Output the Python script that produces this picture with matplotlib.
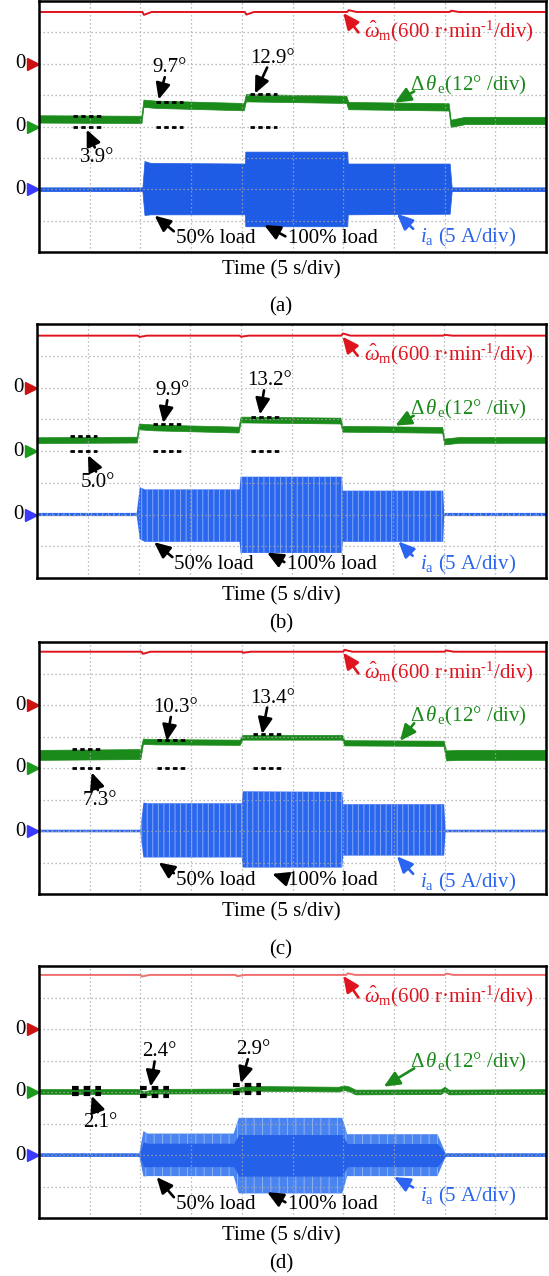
import numpy as np
import matplotlib.pyplot as plt

plt.rcParams['font.family'] = ['Liberation Serif', 'DejaVu Serif']
plt.rcParams['mathtext.fontset'] = 'custom'
plt.rcParams['mathtext.rm'] = 'Liberation Serif'
plt.rcParams['mathtext.it'] = 'Liberation Serif:italic'
plt.rcParams['hatch.linewidth'] = 0.7

# scope scales
T_DIV, W_DIV, TH_DIV, I_DIV = 5, 600, 12, 5
ZERO_W, ZERO_TH, ZERO_I = 6, 4, 2          # zero markers (div from bottom)

panels = ['(a)', '(b)', '(c)', '(d)']

# load steps (s): 50% on, 100% on, back to 50%, off
steps = [[10.2, 20.3, 30.4, 40.5],
         [9.9, 19.9, 29.9, 39.9],
         [10.1, 20.0, 30.0, 40.0],
         [10.0, 19.4, 30.3, 40.0]]
# speed estimate (r/min) and its deviation at each step
speed = [990, 980, 1015, 1030]
speed_dev = [[-55, -50, 35, 25],
             [-25, -20, 40, 15],
             [-40, -20, 35, 25],
             [-30, -25, 30, 25]]

# angle error traces (deg)
th_t = [[0, 10.1, 10.3, 11.5, 20.2, 20.4, 30.3, 30.5, 40.4, 40.6, 42.0, 50],
        [0, 9.8, 10.0, 11.5, 19.8, 20.0, 29.8, 30.0, 39.8, 40.0, 41.5, 50],
        [0, 10.0, 10.25, 11.5, 19.8, 20.05, 29.9, 30.1, 39.9, 40.15, 41.5, 50],
        [0, 9.9, 10.3, 11.5, 19.2, 20.5, 29.5, 30.1, 30.5, 31.2, 39.6, 40.0, 40.4, 50]]
th_v = [[2.9, 2.7, 8.9, 8.5, 7.6, 11.0, 10.4, 8.0, 7.5, 1.2, 2.3, 2.3],
        [4.1, 4.3, 9.3, 8.9, 8.1, 11.9, 11.5, 8.4, 8.0, 3.6, 4.2, 4.2],
        [5.0, 5.3, 10.2, 10.0, 9.8, 11.7, 11.7, 9.6, 9.4, 4.8, 5.0, 5.0],
        [0.2, 0.2, -0.7, 0.3, 0.4, 1.4, 1.1, 1.6, 1.3, 0.0, 0.1, 1.1, 0.0, 0.2]]
th_band = [[1.4] * 12,
           [1.1] * 12,
           [1.9, 1.9, 1.0, 1.0, 1.0, 0.9, 0.9, 1.0, 1.0, 1.9, 1.9, 1.9],
           [0.9] * 14]

# phase current envelope (A)
ia_t = [[0, 10.2, 10.4, 11.0, 20.3, 20.35, 30.4, 30.45, 40.5, 40.7, 50],
        [0, 9.8, 10.1, 10.6, 19.9, 20.0, 29.95, 30.05, 39.9, 40.0, 50],
        [0, 10.0, 10.3, 10.8, 20.0, 20.1, 29.9, 30.0, 39.95, 40.1, 50],
        [0, 9.9, 10.3, 10.7, 19.2, 19.7, 29.9, 30.4, 39.3, 40.1, 50]]
ia_top = [[0.3, 0.3, 4.5, 4.2, 4.1, 6.0, 6.0, 4.1, 4.1, 0.3, 0.3],
          [0.25, 0.25, 4.3, 3.95, 3.95, 5.95, 5.95, 3.75, 3.75, 0.25, 0.25],
          [0.2, 0.2, 4.5, 4.4, 4.4, 6.3, 6.2, 4.25, 4.25, 0.2, 0.2],
          [0.3, 0.3, 3.8, 3.4, 3.4, 5.9, 5.9, 3.3, 3.3, 0.3, 0.3]]
ia_bot = [[0.3, 0.3, 4.1, 4.0, 4.0, 5.9, 5.9, 4.0, 3.9, 0.3, 0.3],
          [0.25, 0.25, 3.9, 4.3, 4.3, 6.05, 6.05, 4.3, 4.3, 0.25, 0.25],
          [0.2, 0.2, 4.2, 4.2, 4.2, 5.8, 5.8, 3.9, 3.9, 0.2, 0.2],
          [0.3, 0.3, 3.4, 3.35, 3.35, 6.1, 6.1, 3.35, 3.35, 0.3, 0.3]]

# marked angle errors
ang_labels = [['3.9°', '9.7°', '12.9°'],
              ['5.0°', '9.9°', '13.2°'],
              ['7.3°', '10.3°', '13.4°'],
              ['2.1°', '2.4°', '2.9°']]
# dashed markers: (t start, t end, upper deg, lower deg)
ang_marks = [[(3.4, 6.1, 4.1, 0), (11.5, 14.2, 9.5, 0), (20.8, 23.5, 12.4, 0)],
             [(3.2, 5.9, 5.6, 0), (11.4, 14.2, 10.1, 0), (21.0, 23.8, 13.0, 0)],
             [(3.3, 6.1, 7.3, 0), (11.6, 14.4, 10.5, 0), (21.1, 23.9, 12.9, 0)],
             [(3.3, 6.1, 1.5, -0.6), (10.0, 12.8, 1.5, -1.4), (19.1, 21.9, 2.7, -0.2)]]

# layout (pixels): box left, top, right, bottom
W, H = 549, 1276
boxes = [(39, 1, 546, 252), (37, 324, 546, 578), (39, 642, 546, 894), (39, 966, 546, 1218)]
cap_gap = [55, 46, 56, 46]
# label text / arrow tip positions (s, div)
ang_txt = [[(5.7, 3.0), (12.9, 5.87), (23.0, 6.18)],
           [(6.0, 3.02), (13.3, 5.9), (22.8, 6.21)],
           [(6.0, 2.97), (13.5, 5.92), (23.0, 6.22)],
           [(6.0, 3.03), (11.9, 5.27), (21.1, 5.34)]]
ang_tip = [[(4.7, 3.9), (11.8, 4.86), (21.3, 5.05)],
           [(5.0, 3.87), (12.4, 4.88), (21.9, 5.15)],
           [(5.2, 3.86), (12.6, 4.86), (22.0, 5.08)],
           [(5.2, 3.88), (11.0, 4.17), (19.9, 4.28)]]
th_lab_y = [5.32, 5.31, 5.62, 4.95]
th_tip = [(35.1, 4.76), (35.2, 4.8), (35.6, 4.86), (34.0, 4.17)]
ia_lab_y = [0.46, 0.42, 0.36, 0.69]
ia_tip = [(35.3, 1.22), (35.5, 1.15), (35.3, 1.2), (35.0, 1.3)]
load_tip = [[(11.4, 1.16), (22.2, 0.86)],
            [(11.5, 1.13), (22.6, 0.8)],
            [(11.8, 1.0), (23.0, 0.64)],
            [(11.6, 1.3), (22.5, 0.82)]]

RED, GREEN, BLUE = '#e0141e', '#1a8a1a', '#1f5ce6'
FS = 15
ARW = '-|>,head_length=0.6,head_width=0.27'

fig = plt.figure(figsize=(W / 100, H / 100), dpi=100)


def arrow(ax, tail, tip, c='k'):
    ax.annotate('', xy=tip, xytext=tail,
                arrowprops=dict(arrowstyle=ARW, color=c, lw=1.9, shrinkA=0, shrinkB=0,
                                mutation_scale=16))


for k in range(4):
    l, t, r, b = boxes[k]
    ax = fig.add_axes([l / W, 1 - b / H, (r - l) / W, (b - t) / H])
    ax.set_xlim(0, 10 * T_DIV)
    ax.set_ylim(0, 8)
    ax.set_xticks(np.arange(0, 10 * T_DIV + 1, T_DIV))
    ax.set_yticks(range(9))
    ax.tick_params(length=0, labelbottom=False, labelleft=False)
    ax.grid(True, color='#a8a8a8', linestyle=(0, (1, 2.2)), linewidth=0.9)
    for sp in ax.spines.values():
        sp.set_linewidth(1.8)

    # speed
    tw, vw = [0], [speed[k]]
    for s, d in zip(steps[k], speed_dev[k]):
        tw += [s, s + 0.15, s + 0.9]
        vw += [speed[k], speed[k] + d, speed[k]]
    tw.append(50)
    vw.append(speed[k])
    red_c = '#f07070' if k == 3 else RED
    ax.plot(tw, ZERO_W + np.array(vw) / W_DIV, color=red_c, lw=1.4)

    # angle error
    th = np.array(th_v[k]) / TH_DIV + ZERO_TH
    bw = np.array(th_band[k]) / TH_DIV
    ax.fill_between(th_t[k], th - bw, th + bw, color=GREEN, lw=0.5)

    # current
    ia_hi = ZERO_I + np.array(ia_top[k]) / I_DIV
    ia_lo = ZERO_I - np.array(ia_bot[k]) / I_DIV
    if k == 0:
        ax.fill_between(ia_t[k], ia_lo, ia_hi, color=BLUE, lw=0.5)
    elif k < 3:
        ax.fill_between(ia_t[k], ia_lo, ia_hi, facecolor='#2b66ee', edgecolor='#86a9f5',
                        hatch='|||', lw=0)
    else:
        ax.fill_between(ia_t[k], ia_lo, ia_hi, facecolor='#4a84f0', edgecolor='#8fb0f6',
                        hatch='||', lw=0)
        ax.fill_between(ia_t[k], ZERO_I - 0.55 * (ZERO_I - ia_lo),
                        ZERO_I + 0.55 * (ia_hi - ZERO_I), color='#2560e8', lw=0)

    # angle markers
    dlw = 3 if k == 3 else 2
    for j, ((t0, t1, up, lo), lab, txy, tip) in enumerate(
            zip(ang_marks[k], ang_labels[k], ang_txt[k], ang_tip[k])):
        for v in (up, lo):
            ax.plot([t0, t1], [ZERO_TH + v / TH_DIV] * 2, color='k', lw=dlw,
                    linestyle=(0, (1.6, 1.2)))
        ax.text(txy[0], txy[1], lab, ha='center', va='center', fontsize=FS)
        if j == 0:
            tail = (txy[0] - 0.2, txy[1] + 0.33)
        else:
            tail = (txy[0] - 0.5, txy[1] - 0.3)
        arrow(ax, tail, tip)

    # channel labels
    wl = ZERO_W + speed[k] / W_DIV - 0.03
    ax.text(32.1, 7.03, r'$\hat{\mathit{ω}}_{\rm m}$(600 r·min$^{\rm ‐1}$/div)',
            ha='left', va='center', fontsize=FS, color=RED)
    arrow(ax, (31.5, 7.0), (30.0, wl), RED)
    ax.text(36.6, th_lab_y[k], r'$\mathit{Δ\,θ}_{\,\rm e}$(12° /div)',
            ha='left', va='center', fontsize=FS, color=GREEN)
    arrow(ax, (37.0, th_lab_y[k] - 0.2), th_tip[k], GREEN)
    ax.text(37.6, ia_lab_y[k], r'$\mathit{i}_{\rm a}$ (5 A/div)',
            ha='left', va='center', fontsize=FS, color='#2a64f0')
    arrow(ax, (36.9, ia_lab_y[k] + 0.28), ia_tip[k], '#2a64f0')
    ax.text(13.5, 0.43, '50% load', ha='left', va='center', fontsize=FS)
    arrow(ax, (13.3, 0.66), load_tip[k][0])
    ax.text(24.6, 0.43, '100% load', ha='left', va='center', fontsize=FS)
    arrow(ax, (24.3, 0.5), load_tip[k][1])

    # zero markers
    tr = ax.get_yaxis_transform()
    for z, c in zip([ZERO_W, ZERO_TH, ZERO_I], ['#cc1111', '#1a9a1a', '#3a3aff']):
        ax.plot([-0.011], [z], marker='>', color=c, markersize=8, transform=tr,
                clip_on=False)
        ax.text(-0.036, z, '0', transform=tr, ha='center', va='center', fontsize=FS)

    fig.text(281 / W, 1 - (b + 18) / H, 'Time (5 s/div)', ha='center', va='center',
             fontsize=FS)
    fig.text(281 / W, 1 - (b + cap_gap[k]) / H, panels[k], ha='center', va='center',
             fontsize=FS)

fig.savefig('out.png', dpi=100)
